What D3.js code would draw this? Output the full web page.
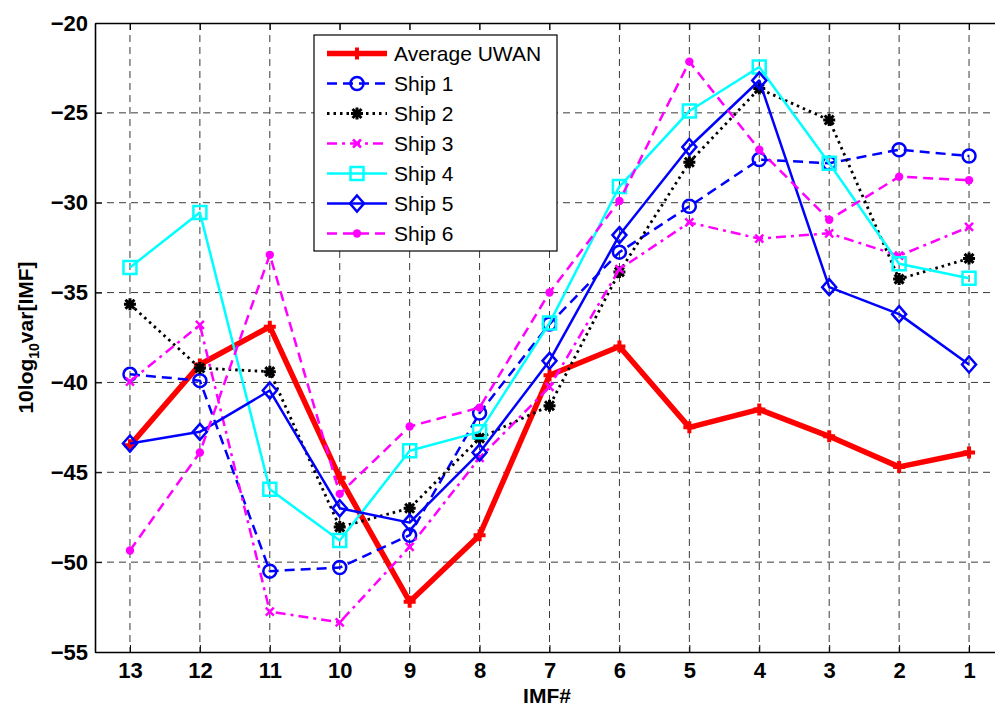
<!DOCTYPE html>
<html><head><meta charset="utf-8">
<script src="https://cdn.jsdelivr.net/npm/d3@7"></script>
<style>body{margin:0;background:#fff}svg{display:block}</style>
</head><body>
<script>
// ---- data ----
const categories = [13,12,11,10,9,8,7,6,5,4,3,2,1];
const avgUWAN = [-43.5,-39.0,-36.9,-45.3,-52.2,-48.5,-39.6,-38.0,-42.5,-41.5,-43.0,-44.7,-43.9];
const ship1   = [-39.55,-39.9,-50.5,-50.3,-48.5,-41.7,-36.75,-32.75,-30.2,-27.6,-27.8,-27.05,-27.4];
const ship2   = [-35.65,-39.2,-39.4,-48.05,-47.0,-43.1,-41.3,-33.85,-27.75,-23.65,-25.4,-34.25,-33.1];
const ship3   = [-39.95,-36.8,-52.75,-53.35,-49.15,-44.2,-40.25,-33.7,-31.1,-32.0,-31.7,-32.95,-31.35];
const ship4   = [-33.6,-30.55,-45.95,-48.8,-43.8,-42.75,-36.7,-29.1,-24.9,-22.45,-27.8,-33.4,-34.2];
const ship5   = [-43.4,-42.75,-40.45,-47.0,-47.8,-43.9,-38.8,-31.8,-26.9,-23.2,-34.7,-36.2,-39.0];
const ship6   = [-49.35,-43.9,-32.9,-46.2,-42.45,-41.4,-35.0,-29.9,-22.15,-27.05,-30.95,-28.55,-28.75];
const seriesNames = ["Average UWAN","Ship 1","Ship 2","Ship 3","Ship 4","Ship 5","Ship 6"];
const yTicks = [-55,-50,-45,-40,-35,-30,-25,-20];
const xLabel = "IMF#";

// ---- styles ----
const styles = [
  {values:avgUWAN, color:"#ff0000", width:5.5, dash:null, marker:"plus"},
  {values:ship1, color:"#0000ff", width:2.5, dash:"10,6", marker:"circle"},
  {values:ship2, color:"#000000", width:2.8, dash:"2.5,4", marker:"asterisk"},
  {values:ship3, color:"#ff00ff", width:2.5, dash:"10,5,3,5", marker:"x"},
  {values:ship4, color:"#00ffff", width:2.5, dash:null, marker:"square"},
  {values:ship5, color:"#0000ff", width:2.5, dash:null, marker:"diamond"},
  {values:ship6, color:"#ff00ff", width:2.5, dash:"10,6", marker:"dot"}
];

const W=995, H=706;
const L=95, R=1004, T=23, B=652;
const x = d3.scaleLinear().domain([13.5,0.5]).range([L,R]);
const y = d3.scaleLinear().domain([-55,-20]).range([B,T]);

const svg = d3.select("body").append("svg").attr("width",W).attr("height",H)
  .style("font-family","'Liberation Sans', Arial, sans-serif");

// grid
const grid = svg.append("g").attr("stroke","#3a3a3a").attr("stroke-width",1).attr("stroke-dasharray","7,5");
grid.selectAll("line.gx").data(categories).join("line")
  .attr("x1",d=>x(d)).attr("x2",d=>x(d)).attr("y1",T).attr("y2",B);
grid.selectAll("line.gy").data(yTicks.slice(1,-1)).join("line").attr("class","gy")
  .attr("x1",L).attr("x2",R).attr("y1",d=>y(d)).attr("y2",d=>y(d));

// axes
const xAxis = svg.append("g").attr("transform",`translate(0,${B})`)
  .call(d3.axisBottom(x).tickValues(categories).tickSizeInner(-7).tickSizeOuter(0).tickPadding(10).tickFormat(d3.format("d")));
const xAxisTop = svg.append("g").attr("transform",`translate(0,${T})`)
  .call(d3.axisTop(x).tickValues(categories).tickSizeInner(-7).tickSizeOuter(0).tickFormat(""));
const yAxis = svg.append("g").attr("transform",`translate(${L},0)`)
  .call(d3.axisLeft(y).tickValues(yTicks).tickSizeInner(-7).tickSizeOuter(0).tickPadding(16).tickFormat(d3.format("d")));
[xAxis,xAxisTop,yAxis].forEach(g=>{
  g.select(".domain").attr("stroke","#000").attr("stroke-width",1.6);
  g.selectAll(".tick line").attr("stroke","#000").attr("stroke-width",1);
  g.selectAll(".tick text").attr("fill","#000").style("font-size","22px").style("font-weight","bold")
   .style("font-family","'Liberation Sans', Arial, sans-serif");
});
yAxis.selectAll(".tick text").attr("x",-7).attr("dx",0);

// axis labels
svg.append("text").attr("x",547).attr("y",703).attr("text-anchor","middle")
  .style("font-size","21px").style("font-weight","bold").text(xLabel);
const yl = svg.append("text").attr("transform",`translate(33,${(T+B)/2}) rotate(-90)`)
  .attr("text-anchor","middle").style("font-size","21px").style("font-weight","bold");
yl.append("tspan").text("10log");
yl.append("tspan").attr("dy",6).style("font-size","14px").text("10");
yl.append("tspan").attr("dy",-6).text("var[IMF]");

// marker drawing
function drawMarker(g, type, color, cx, cy){
  const s = g.append("path").attr("transform",`translate(${cx},${cy})`);
  let d;
  switch(type){
    case "plus": d="M-6,0H6M0,-6V6"; s.attr("stroke",color).attr("stroke-width",4).attr("fill","none"); break;
    case "circle": d=d3.path(); d.arc(0,0,6.5,0,2*Math.PI); d=d.toString(); s.attr("stroke",color).attr("stroke-width",2.5).attr("fill","none"); break;
    case "asterisk": d="M-6,0H6M0,-6V6M-4.5,-4.5L4.5,4.5M-4.5,4.5L4.5,-4.5"; s.attr("stroke",color).attr("stroke-width",3).attr("fill","none"); break;
    case "x": d="M-4,-4L4,4M-4,4L4,-4"; s.attr("stroke",color).attr("stroke-width",2.5).attr("fill","none"); break;
    case "square": d="M-6.5,-6.5H6.5V6.5H-6.5Z"; s.attr("stroke",color).attr("stroke-width",2.5).attr("fill","none"); break;
    case "diamond": d="M0,-8L7,0L0,8L-7,0Z"; s.attr("stroke",color).attr("stroke-width",2.5).attr("fill","none"); break;
    case "dot": d=d3.path(); d.arc(0,0,4.2,0,2*Math.PI); d=d.toString(); s.attr("fill",color).attr("stroke","none"); break;
  }
  s.attr("d",d);
}

// series
const line = d3.line().x((d,i)=>x(categories[i])).y(d=>y(d));
const plot = svg.append("g");
styles.forEach(st=>{
  const g = plot.append("g");
  g.append("path").datum(st.values).attr("d",line).attr("fill","none")
    .attr("stroke",st.color).attr("stroke-width",st.width)
    .attr("stroke-dasharray",st.dash).attr("stroke-linejoin","round");
  st.values.forEach((v,i)=>drawMarker(g, st.marker, st.color, x(categories[i]), y(v)));
});

// legend
const lg = svg.append("g");
lg.append("rect").attr("x",314).attr("y",35).attr("width",243).attr("height",216)
  .attr("fill","#fff").attr("stroke","#000").attr("stroke-width",1.2);
styles.forEach((st,i)=>{
  const cy = 53.5 + i*30;
  lg.append("line").attr("x1",327).attr("x2",387).attr("y1",cy).attr("y2",cy)
    .attr("stroke",st.color).attr("stroke-width",st.width).attr("stroke-dasharray",st.dash);
  drawMarker(lg, st.marker, st.color, 357, cy);
  lg.append("text").attr("x",394).attr("y",cy+7.5).style("font-size","21px").text(seriesNames[i]);
});
</script>
</body></html>
